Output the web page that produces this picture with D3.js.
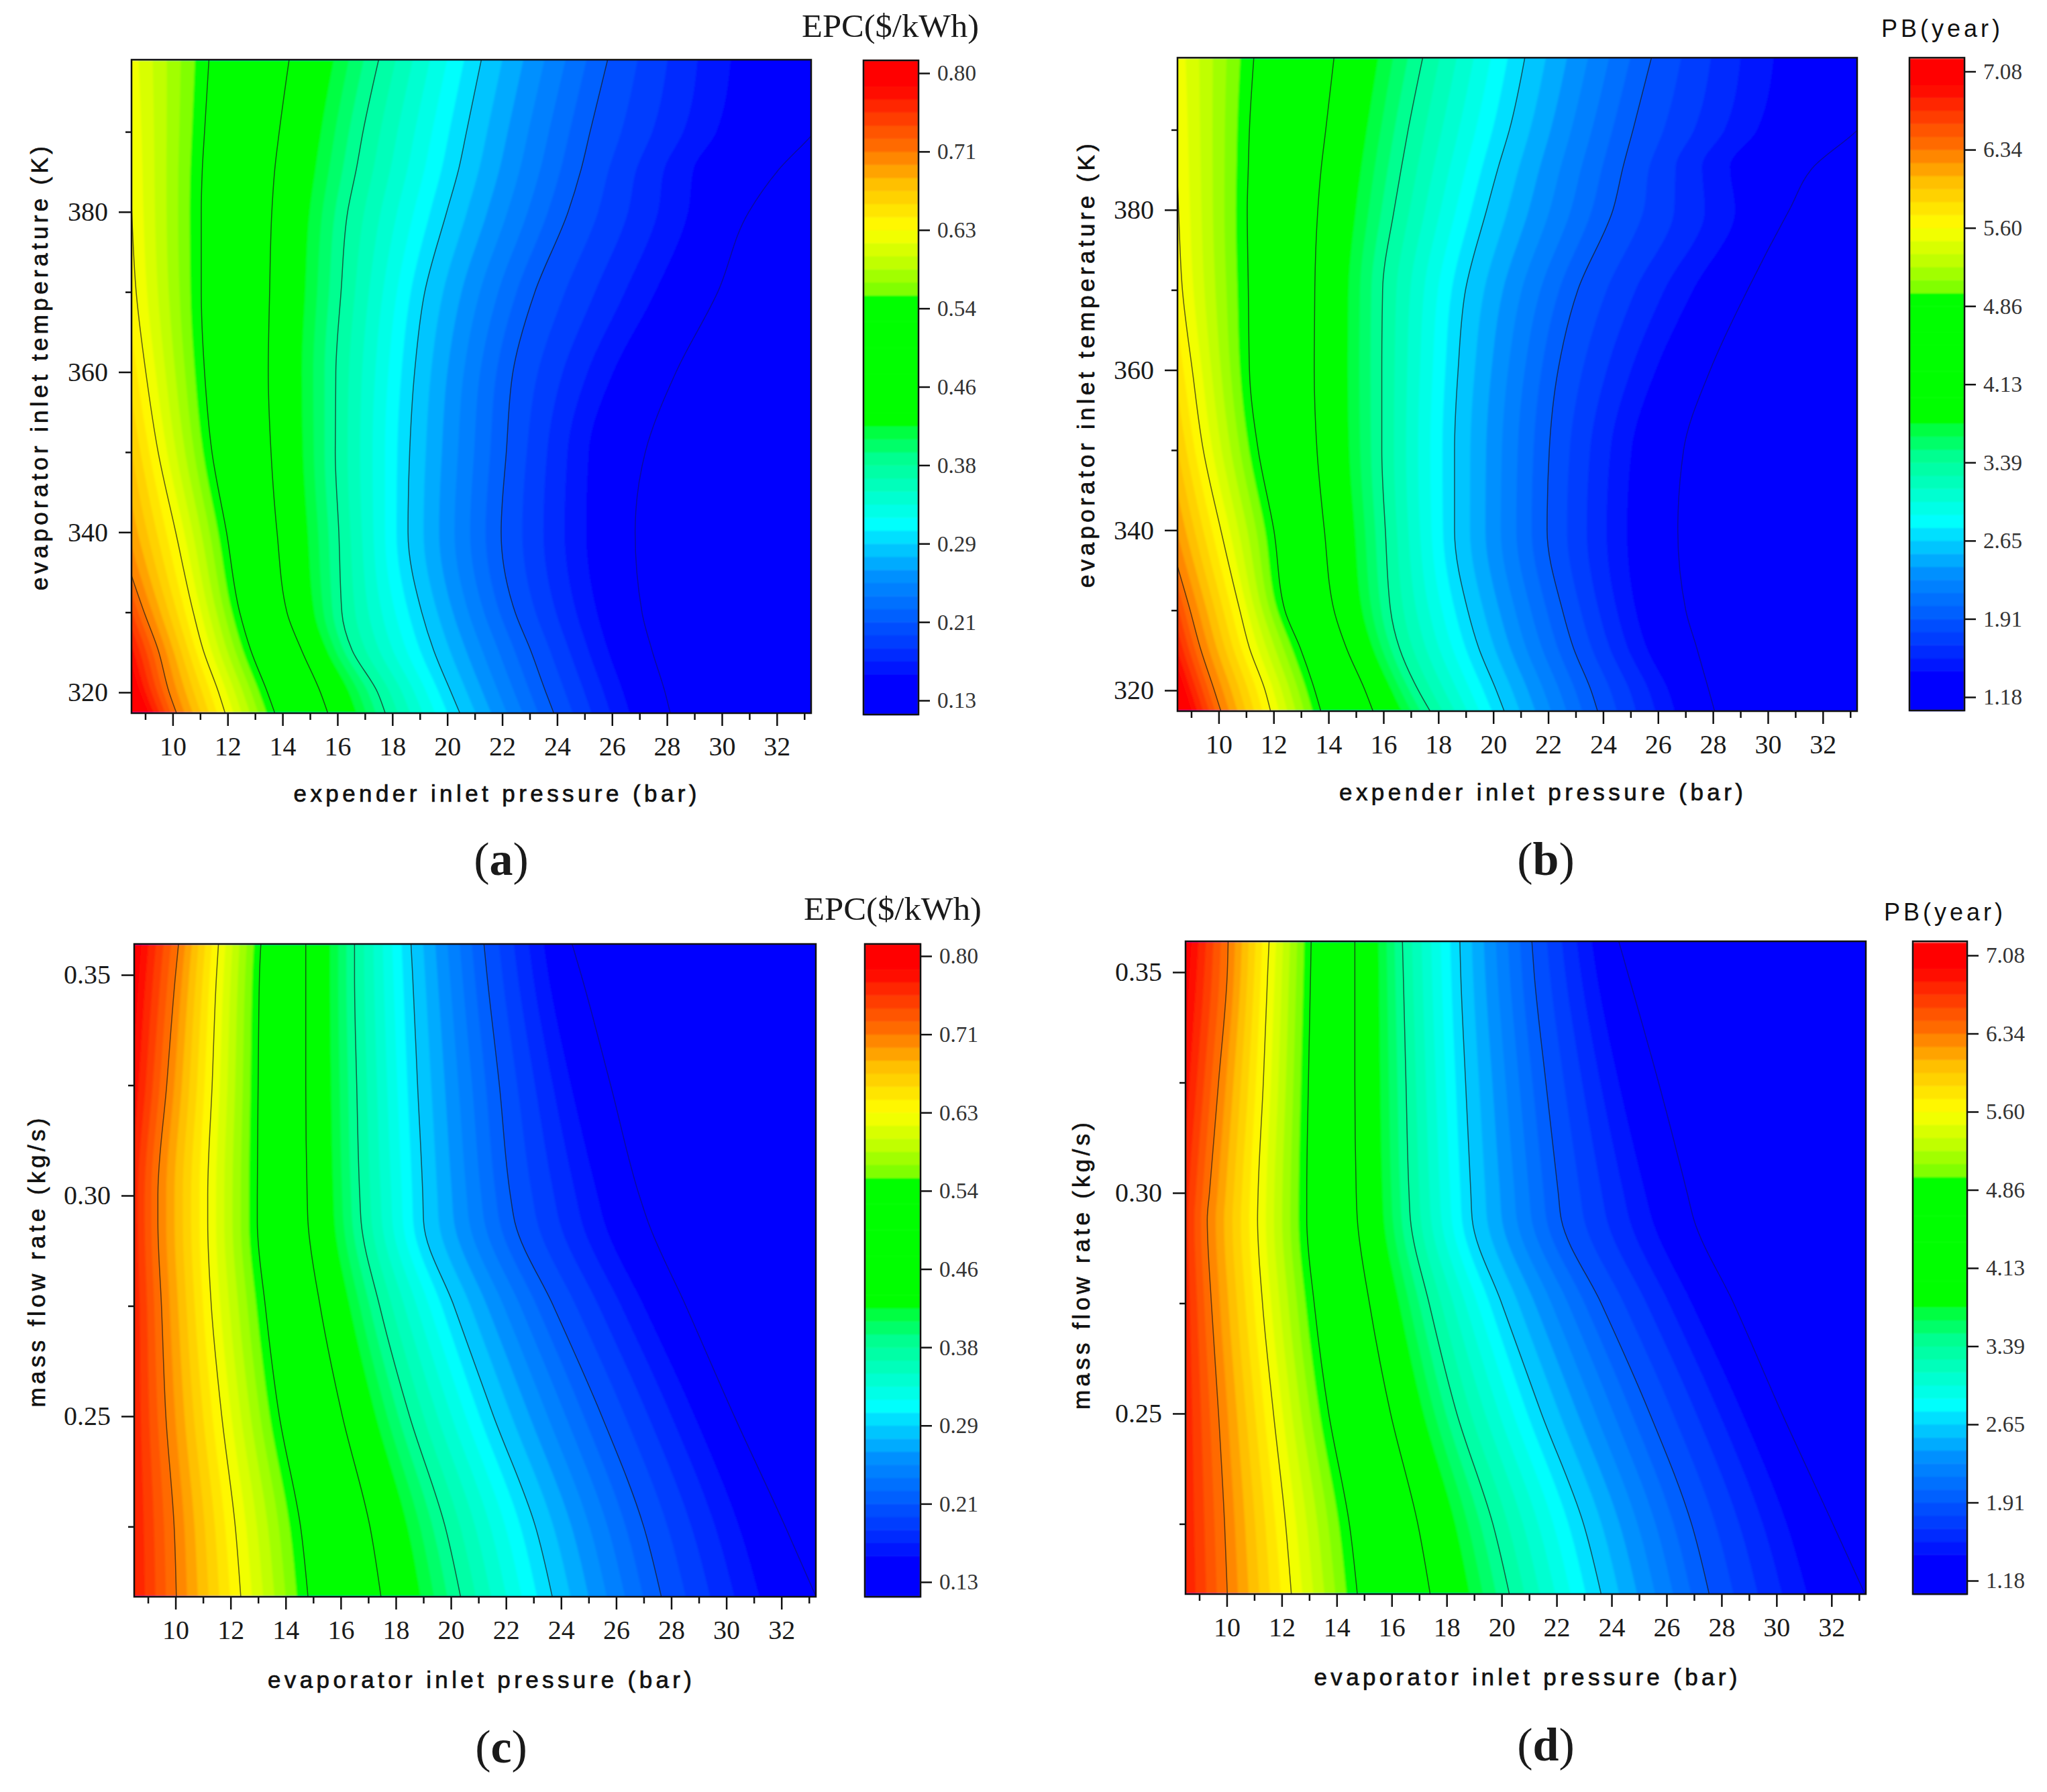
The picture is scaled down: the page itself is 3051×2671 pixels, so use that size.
<!DOCTYPE html>
<html>
<head>
<meta charset="utf-8">
<script src="https://cdn.jsdelivr.net/npm/d3@7"></script>
<style>
  html, body { margin: 0; padding: 0; background: #fff; }
  svg { display: block; }
  .serif { font-family: "Liberation Serif", serif; fill: #1a1a1a; }
  .sans { font-family: "Liberation Sans", sans-serif; fill: #111; }
</style>
</head>
<body>
<div id="chart"></div>
<script>
// y rows shared by the contour arrays below
const tempRows = [399, 390, 385.4, 380, 370, 360, 350, 340, 330, 325.3, 320, 317.4];
const flowRows = [0.357, 0.35, 0.325, 0.30, 0.294, 0.275, 0.25, 0.225, 0.2091];

// contour position: 0 = bottom colorbar tick, 8 = top colorbar tick, 0.35 = edge of the dark blue (no line drawn)
const contourLevels = [0, 0.35, 1, 2, 3, 4, 5, 6, 7, 8];

// panel a: pressure (bar) of each contour at each tempRow
const a0 = [34.83, 33.38, 32.10, 30.98, 29.85, 28.33, 27.21, 26.84, 27.09, 27.45, 27.93, 28.12];
const aEdge = [30.09, 29.61, 28.81, 28.65, 27.45, 25.92, 25.04, 24.96, 25.36, 25.76, 26.32, 26.56];
const a1 = [25.84, 25.20, 24.88, 24.40, 23.19, 22.39, 22.15, 21.96, 22.47, 23.03, 23.59, 23.88];
const a2 = [21.24, 20.70, 20.42, 19.98, 19.18, 18.81, 18.63, 18.57, 19.07, 19.50, 20.14, 20.46];
const a3 = [17.50, 16.93, 16.69, 16.37, 16.13, 15.94, 15.92, 16.05, 16.16, 16.53, 17.46, 17.74];
const a4 = [14.24, 13.88, 13.72, 13.61, 13.53, 13.48, 13.58, 13.80, 14.16, 14.69, 15.38, 15.65];
const a5 = [11.32, 11.16, 11.08, 11.04, 11.04, 11.16, 11.43, 11.96, 12.44, 12.84, 13.45, 13.72];
const a6 = [8.25, 8.40, 8.46, 8.51, 8.67, 9.02, 9.47, 10.11, 10.75, 11.11, 11.67, 11.91];
const a7 = [5.14, 5.62, 5.86, 6.10, 6.58, 7.06, 7.54, 8.03, 8.96, 9.47, 9.87, 10.14];
const a8 = [3.85, 4.33, 4.57, 4.82, 5.30, 5.78, 6.26, 6.82, 7.62, 8.11, 8.59, 8.91];

// panel b
const b0 = [34.72, 33.27, 31.67, 30.78, 29.26, 27.90, 26.93, 26.72, 27.01, 27.41, 27.85, 28.06];
const bEdge = [29.98, 29.42, 28.46, 28.70, 27.17, 25.81, 24.93, 24.77, 25.09, 25.49, 26.29, 26.53];
const b1 = [25.76, 25.09, 24.73, 24.36, 23.08, 22.36, 22.04, 21.96, 22.52, 22.92, 23.56, 23.80];
const b2 = [21.15, 20.59, 20.19, 19.76, 18.99, 18.72, 18.59, 18.59, 19.07, 19.47, 20.11, 20.40];
const b3 = [17.43, 16.90, 16.66, 16.39, 15.97, 15.94, 15.94, 16.07, 16.26, 16.58, 17.27, 17.70];
const b4 = [14.20, 13.90, 13.74, 13.61, 13.50, 13.48, 13.58, 13.85, 14.20, 14.65, 15.33, 15.62];
const b5 = [11.28, 11.12, 11.08, 11.04, 11.08, 11.12, 11.44, 12.01, 12.41, 12.97, 13.50, 13.72];
const b6 = [8.30, 8.43, 8.48, 8.54, 8.68, 9.04, 9.44, 10.08, 10.77, 11.12, 11.69, 11.89];
const b7 = [5.19, 5.67, 5.91, 6.15, 6.63, 7.11, 7.59, 8.15, 8.96, 9.33, 9.84, 10.08];
const b8 = [3.9, 4.4, 4.6, 4.9, 5.35, 5.85, 6.3, 6.9, 7.7, 8.05, 8.55, 8.8];

// panel c: pressure (bar) of each contour at each flowRow
const c0 = [24.40, 24.73, 25.80, 26.84, 27.16, 28.53, 30.29, 32.14, 33.26];
const cEdge = [23.31, 23.47, 24.28, 25.24, 25.48, 26.92, 28.77, 30.37, 31.09];
const c1 = [21.20, 21.31, 21.76, 22.16, 22.32, 23.72, 25.48, 27.00, 27.64];
const c2 = [18.55, 18.61, 18.79, 18.98, 19.01, 20.11, 21.55, 23.07, 23.68];
const c3 = [16.50, 16.50, 16.58, 16.69, 16.74, 17.41, 18.50, 19.79, 20.35];
const c4 = [14.73, 14.73, 14.73, 14.78, 14.81, 15.25, 16.06, 17.06, 17.46];
const c5 = [13.10, 13.05, 13.00, 12.97, 12.97, 13.26, 13.77, 14.54, 14.81];
const c6 = [11.56, 11.49, 11.33, 11.17, 11.17, 11.30, 11.68, 12.17, 12.37];
const c7 = [10.11, 10.00, 9.68, 9.36, 9.36, 9.49, 9.65, 9.95, 10.03];
const c8 = [8.48, 8.40, 8.16, 7.92, 7.92, 7.92, 7.84, 7.76, 7.76];

// panel d
const d0 = [24.26, 24.58, 25.71, 26.75, 26.99, 28.44, 30.20, 32.05, 33.22];
const dEdge = [23.22, 23.38, 24.18, 25.14, 25.39, 26.83, 28.68, 30.28, 31.00];
const d1 = [21.10, 21.18, 21.61, 22.06, 22.17, 23.62, 25.39, 26.91, 27.55];
const d2 = [18.48, 18.51, 18.69, 18.88, 18.93, 20.00, 21.45, 22.98, 23.62];
const d3_ = [16.39, 16.42, 16.52, 16.63, 16.68, 17.36, 18.37, 19.68, 20.28];
const d4 = [14.66, 14.66, 14.66, 14.71, 14.75, 15.19, 15.96, 16.95, 17.40];
const d5 = [13.07, 13.05, 12.97, 12.91, 12.91, 13.18, 13.71, 14.46, 14.75];
const d6 = [11.54, 11.49, 11.33, 11.14, 11.12, 11.30, 11.70, 12.14, 12.35];
const d7 = [10.05, 10.02, 9.70, 9.37, 9.29, 9.44, 9.70, 9.92, 10.02];
const d8 = [8.44, 8.36, 8.12, 7.88, 7.88, 7.88, 7.80, 7.72, 7.72];

// colorbar tick labels
const epcLabels = ['0.13', '0.21', '0.29', '0.38', '0.46', '0.54', '0.63', '0.71', '0.80'];
const pbLabels = ['1.18', '1.91', '2.65', '3.39', '4.13', '4.86', '5.60', '6.34', '7.08'];

// colorbar colours (position in tick units)
const colorPos = [-1, 0.16, 0.34, 1, 1.5, 2, 2.15, 2.57, 3, 3.34, 3.5, 5.15, 5.16, 5.5, 5.93, 6.5, 7, 7.5, 7.7, 9];
const colorHex = ['#0000ff', '#0000ff', '#0018ff', '#0060ff', '#0090ff', '#00e0ff', '#00ffff', '#00ffc8', '#00ff90', '#00ff40', '#00ff00',
  '#00ff00', '#80ff00', '#c0ff00', '#ffff00', '#ffc000', '#ff6a00', '#ff2800', '#ff0000', '#ff0000'];

const xTicks = [10, 12, 14, 16, 18, 20, 22, 24, 26, 28, 30, 32];
const xMinor = [9, 11, 13, 15, 17, 19, 21, 23, 25, 27, 29, 31, 33];
const tempTicks = [320, 340, 360, 380];
const tempMinor = [330, 350, 370, 390];
const flowTicks = [0.25, 0.30, 0.35];
const flowMinor = [0.225, 0.275, 0.325];

const bandsPerTick = 6;
const xDomain = [8.5, 33.25];

const panels = [
  { id: 'a', lines: [a0, aEdge, a1, a2, a3, a4, a5, a6, a7, a8], rows: tempRows, yDomain: [317.4, 399],
    box: [196, 1209, 89, 1063], yTicks: tempTicks, yMinor: tempMinor, yFormat: d3.format('d'),
    xLabel: 'expender inlet pressure (bar)', xL: [738, 1195, 601],
    yLabel: 'evaporator inlet temperature (K)', yL: [71, 549, 662],
    title: 'EPC($/kWh)', titleSerif: true, tL: [1195, 55, 264], labels: epcLabels,
    bar: [1287, 1369, 90, 1065, 1044, 109], caption: [747, 1304] },
  { id: 'b', lines: [b0, bEdge, b1, b2, b3, b4, b5, b6, b7, b8], rows: tempRows, yDomain: [317.4, 399],
    box: [1755, 2768, 86, 1060], yTicks: tempTicks, yMinor: tempMinor, yFormat: d3.format('d'),
    xLabel: 'expender inlet pressure (bar)', xL: [2297, 1193, 602],
    yLabel: 'evaporator inlet temperature (K)', yL: [1631, 545, 662],
    title: 'PB(year)', titleSerif: false, tL: [2804, 55, 177], labels: pbLabels,
    bar: [2846, 2928, 86, 1059, 1039, 106.5], caption: [2304, 1304] },
  { id: 'c', lines: [c0, cEdge, c1, c2, c3, c4, c5, c6, c7, c8], rows: flowRows, yDomain: [0.2091, 0.357],
    box: [200, 1216, 1407, 2380], yTicks: flowTicks, yMinor: flowMinor, yFormat: d3.format('.2f'),
    xLabel: 'evaporator inlet pressure (bar)', xL: [715, 2516, 632],
    yLabel: 'mass flow rate (kg/s)', yL: [67, 1882, 431],
    title: 'EPC($/kWh)', titleSerif: true, tL: [1198, 1371, 265], labels: epcLabels,
    bar: [1289, 1372, 1407, 2380, 2358, 1425], caption: [747, 2627] },
  { id: 'd', lines: [d0, dEdge, d1, d2, d3_, d4, d5, d6, d7, d8], rows: flowRows, yDomain: [0.2091, 0.357],
    box: [1767, 2781, 1403, 2376], yTicks: flowTicks, yMinor: flowMinor, yFormat: d3.format('.2f'),
    xLabel: 'evaporator inlet pressure (bar)', xL: [2274, 2512, 631],
    yLabel: 'mass flow rate (kg/s)', yL: [1624, 1887, 428],
    title: 'PB(year)', titleSerif: false, tL: [2808, 1372, 177], labels: pbLabels,
    bar: [2851, 2932, 1403, 2376, 2356, 1424], caption: [2304, 2624] }
];

const svg = d3.select('#chart').append('svg')
  .attr('width', 3051)
  .attr('height', 2671)
  .style('background', '#fff');

// the reference is a soft raster, band edges are not crisp in it
const defs = svg.append('defs');
defs.append('filter').attr('id', 'soft').append('feGaussianBlur').attr('stdDeviation', 1.8);
defs.append('filter').attr('id', 'softBar').append('feGaussianBlur').attr('stdDeviation', 1.2);

const colorAt = d3.scaleLinear().domain(colorPos).range(colorHex);

function styleAxis(g, fontSize) {
  g.select('.domain').remove();
  g.selectAll('line').attr('stroke', '#111').attr('stroke-width', 2.5);
  g.selectAll('text').attr('class', 'serif').style('font-size', fontSize + 'px');
}

panels.forEach((p) => {
  const [left, right, top, bottom] = p.box;
  const x = d3.scaleLinear().domain(xDomain).range([left, right]);
  const y = d3.scaleLinear().domain(p.yDomain).range([bottom, top]);
  const g = svg.append('g').attr('id', 'panel-' + p.id);

  g.append('clipPath').attr('id', 'clip-' + p.id)
    .append('rect').attr('x', left).attr('y', top).attr('width', right - left).attr('height', bottom - top);

  const plot = g.append('g').attr('clip-path', `url(#clip-${p.id})`);
  const fills = plot.append('g').attr('filter', 'url(#soft)');
  fills.append('rect').attr('x', left - 12).attr('y', top - 12).attr('width', right - left + 24).attr('height', bottom - top + 24)
    .attr('fill', colorAt(0));

  // filled bands, lowest first, each one painted from the left edge up to its boundary
  const band = d3.area().curve(d3.curveMonotoneY).x0(left - 12).x1((d) => x(d.p)).y((d) => y(d.row));
  d3.range(0, 8 * bandsPerTick).forEach((i) => {
    const level = i / bandsPerTick;
    const pts = p.rows.map((row, r) => {
      const at = d3.scaleLinear().domain(contourLevels).range(p.lines.map((l) => l[r]));
      return { row, p: at(level) };
    });
    fills.append('path').attr('d', band(pts)).attr('fill', colorAt(level));
  });

  // contour lines (index 1 is only a band edge, the last one lies off the plot)
  const contour = d3.line().curve(d3.curveMonotoneY).x((d) => x(d.p)).y((d) => y(d.row));
  p.lines.forEach((l, k) => {
    if (k === 1 || k === p.lines.length - 1) return;
    plot.append('path')
      .attr('d', contour(l.map((v, r) => ({ p: v, row: p.rows[r] }))))
      .attr('fill', 'none')
      .attr('stroke', '#1a1a1a')
      .attr('stroke-opacity', k === 0 ? 0.4 : 0.7)
      .attr('stroke-width', 1.5);
  });

  g.append('rect').attr('x', left).attr('y', top).attr('width', right - left).attr('height', bottom - top)
    .attr('fill', 'none').attr('stroke', '#111').attr('stroke-width', 2.5);

  // axes
  g.append('g').attr('transform', `translate(0,${bottom})`)
    .call(d3.axisBottom(x).tickValues(xTicks).tickFormat(d3.format('d')).tickSize(19).tickPadding(16))
    .call(styleAxis, 40);
  g.append('g').attr('transform', `translate(0,${bottom})`)
    .call(d3.axisBottom(x).tickValues(xMinor).tickFormat('').tickSize(10))
    .call(styleAxis, 40);
  g.append('g').attr('transform', `translate(${left},0)`)
    .call(d3.axisLeft(y).tickValues(p.yTicks).tickFormat(p.yFormat).tickSize(19).tickPadding(16))
    .call(styleAxis, 40);
  g.append('g').attr('transform', `translate(${left},0)`)
    .call(d3.axisLeft(y).tickValues(p.yMinor).tickFormat('').tickSize(9))
    .call(styleAxis, 40);

  // axis titles
  g.append('text').attr('class', 'sans')
    .attr('x', p.xL[0]).attr('y', p.xL[1])
    .attr('text-anchor', 'middle')
    .attr('textLength', p.xL[2]).attr('lengthAdjust', 'spacing')
    .style('font-size', '35px').style('stroke', '#111').style('stroke-width', 0.7)
    .text(p.xLabel);
  g.append('text').attr('class', 'sans')
    .attr('transform', `translate(${p.yL[0]},${p.yL[1]}) rotate(-90)`)
    .attr('text-anchor', 'middle')
    .attr('textLength', p.yL[2]).attr('lengthAdjust', 'spacing')
    .style('font-size', '35px').style('stroke', '#111').style('stroke-width', 0.7)
    .text(p.yLabel);

  // colorbar
  const [bx0, bx1, bTop, bBottom, tick0, tick8] = p.bar;
  const barY = d3.scaleLinear().domain([0, 8]).range([tick0, tick8]);
  const barG = g.append('g');
  const barFills = barG.append('g').attr('filter', 'url(#softBar)');
  d3.range(-2, 8 * bandsPerTick + 1).forEach((i) => {
    const lo = Math.min(bBottom, barY(i / bandsPerTick));
    const hi = Math.max(bTop, barY((i + 1) / bandsPerTick));
    if (lo <= hi) return;
    barFills.append('rect').attr('x', bx0).attr('width', bx1 - bx0)
      .attr('y', hi).attr('height', lo - hi + 0.5)
      .attr('fill', colorAt(i / bandsPerTick));
  });
  barG.append('rect').attr('x', bx0).attr('y', bTop).attr('width', bx1 - bx0).attr('height', bBottom - bTop)
    .attr('fill', 'none').attr('stroke', '#111').attr('stroke-width', 2.5);
  g.append('g').attr('transform', `translate(${bx1},0)`)
    .call(d3.axisRight(barY).tickValues(d3.range(9)).tickFormat((i) => p.labels[i]).tickSize(17).tickPadding(11))
    .call(styleAxis, 34)
    .call((a) => a.selectAll('text').attr('textLength', 58).attr('lengthAdjust', 'spacingAndGlyphs').style('fill', '#333'));

  // colorbar title
  g.append('text').attr('class', p.titleSerif ? 'serif' : 'sans')
    .attr('x', p.tL[0]).attr('y', p.tL[1])
    .attr('textLength', p.tL[2]).attr('lengthAdjust', p.titleSerif ? 'spacingAndGlyphs' : 'spacing')
    .style('font-size', p.titleSerif ? '48px' : '36px')
    .text(p.title);

  // panel caption
  const cap = g.append('text').attr('class', 'serif')
    .attr('x', p.caption[0]).attr('y', p.caption[1])
    .attr('text-anchor', 'middle')
    .style('font-size', '70px');
  cap.append('tspan').text('(');
  cap.append('tspan').style('font-weight', 'bold').text(p.id);
  cap.append('tspan').text(')');
});
</script>
</body>
</html>
